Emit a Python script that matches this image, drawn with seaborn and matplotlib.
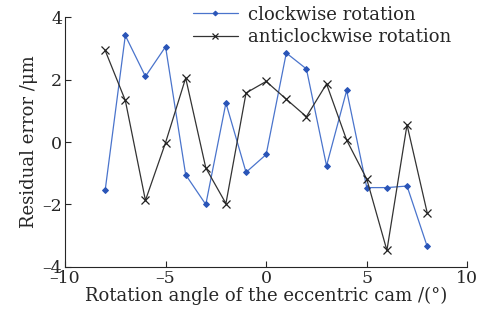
import numpy as np
import pandas as pd
import seaborn as sns
import matplotlib.pyplot as plt
from matplotlib.ticker import FuncFormatter

# Data
angle = [-8, -7, -6, -5, -4, -3, -2, -1, 0, 1, 2, 3, 4, 5, 6, 7, 8]
clockwise = [-1.54, 3.41, 2.10, 3.05, -1.05, -2.00, 1.25, -0.97, -0.40,
             2.85, 2.34, -0.76, 1.65, -1.46, -1.46, -1.41, -3.34]
anticlockwise = [2.93, 1.33, -1.87, -0.02, 2.05, -0.83, -1.97, 1.57, 1.94,
                 1.37, 0.81, 1.86, 0.06, -1.19, -3.47, 0.55, -2.26]

df = pd.DataFrame({"angle": angle, "clockwise": clockwise, "anticlockwise": anticlockwise})

sns.set_style("ticks")
plt.rcParams["font.family"] = ["DejaVu Serif"]
plt.rcParams["mathtext.fontset"] = "dejavuserif"

fig, ax = plt.subplots(figsize=(4.92, 3.22), dpi=100)
fig.subplots_adjust(left=0.132, right=0.95, top=0.947, bottom=0.171)

sns.lineplot(data=df, x="angle", y="clockwise", ax=ax, color="#4a74cc", lw=0.9,
             marker="D", markersize=3, markerfacecolor="#2a55b8", markeredgecolor="#2a55b8",
             label="clockwise rotation")
sns.lineplot(data=df, x="angle", y="anticlockwise", ax=ax, color="#333333", lw=0.9,
             marker="x", markersize=6, markeredgewidth=0.9, markeredgecolor="#222222",
             label="anticlockwise rotation")

ax.set_xlim(-10, 10)
ax.set_ylim(-4, 4)
ax.set_xticks([-10, -5, 0, 5, 10])
ax.set_yticks([-4, -2, 0, 2, 4])
# en-dash style minus as in the reference
fmt = FuncFormatter(lambda v, p: f"{v:g}".replace("-", "\u2013"))
ax.xaxis.set_major_formatter(fmt)
ax.yaxis.set_major_formatter(fmt)
ax.tick_params(direction="in", length=4, width=0.8, labelsize=12.5, pad=2)
for s in ["left", "bottom"]:
    ax.spines[s].set_linewidth(0.8)
sns.despine(ax=ax)

ax.set_xlabel("Rotation angle of the eccentric cam /(°)", fontsize=13, labelpad=0)
ax.set_ylabel("Residual error /μm", fontsize=13, labelpad=3)

leg = ax.legend(loc="upper left", bbox_to_anchor=(0.30, 1.075), frameon=False, fontsize=13,
                handlelength=2.5, handletextpad=0.55, labelspacing=0.25, borderaxespad=0,
                numpoints=1, markerscale=0.8)

fig.savefig("out.png", dpi=100)
